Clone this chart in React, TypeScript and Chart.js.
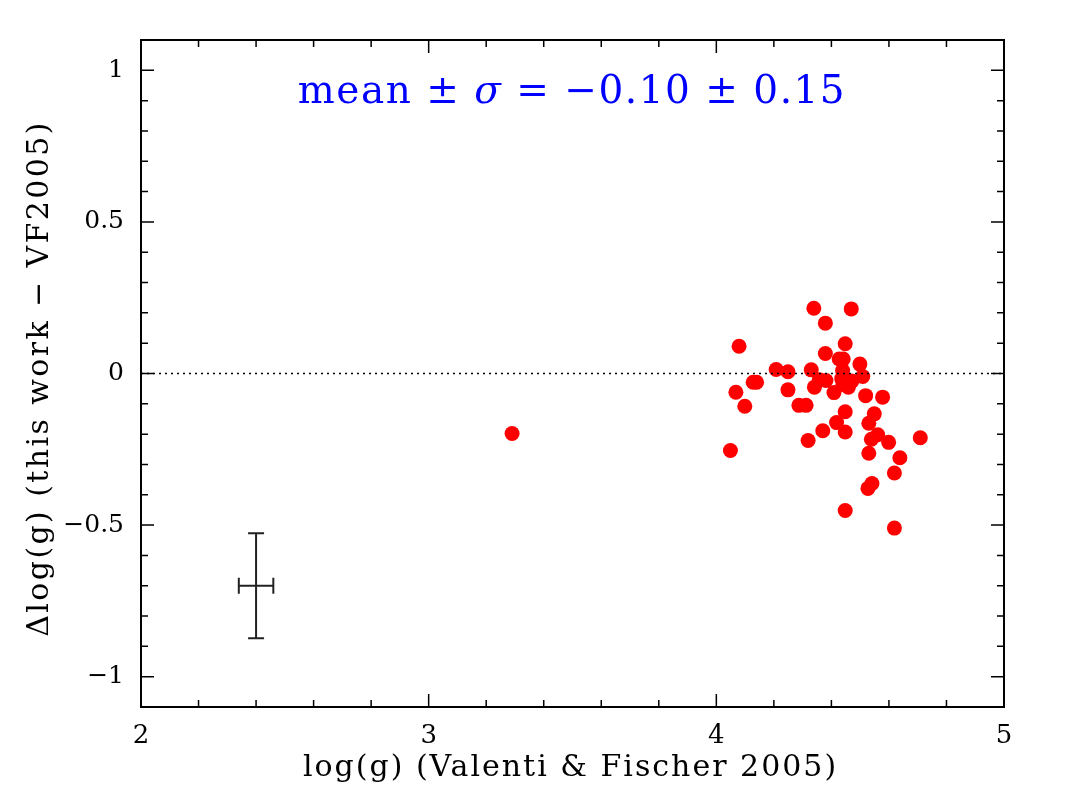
import React, { useEffect, useRef } from "react";
import { Chart, registerables } from "chart.js";

Chart.register(...registerables);

// log(g) from Valenti & Fischer 2005
const loggVF: number[] = [
  4.339, 4.469, 4.379, 4.079, 4.448, 4.379, 4.427, 4.441, 4.499, 4.208,
  4.249, 4.330, 4.439, 4.509, 4.128, 4.140, 4.358, 4.381, 4.436, 4.453,
  4.471, 4.341, 4.459, 4.068, 4.249, 4.409, 4.519, 4.578, 4.099, 4.287,
  4.312, 4.448, 4.549, 4.418, 4.530, 4.370, 4.448, 4.561, 4.539, 4.709,
  4.319, 4.599, 4.049, 4.530, 4.638, 4.619, 4.541, 4.527, 4.448, 4.619,
  4.440, 3.290,
];
// Δlog(g) = this work − VF2005
const deltaLogg: number[] = [
  0.215, 0.213, 0.166, 0.090, 0.098, 0.066, 0.048, 0.048, 0.031, 0.013,
  0.006, 0.012, 0.010, -0.010, -0.029, -0.029, -0.021, -0.023, -0.017, -0.023,
  -0.025, -0.045, -0.045, -0.062, -0.054, -0.063, -0.073, -0.078, -0.108, -0.105,
  -0.105, -0.126, -0.133, -0.162, -0.164, -0.189, -0.193, -0.202, -0.217, -0.212,
  -0.221, -0.227, -0.254, -0.263, -0.278, -0.328, -0.363, -0.379, -0.452, -0.510,
  -0.036, -0.198,
];

const xTicks: number[] = [2, 3, 4, 5];
const yTicks: number[] = [-1, -0.5, 0, 0.5, 1];
const yTickLabels: string[] = ["\u22121", "\u22120.5", "0", "0.5", "1"];
const xMinorStep = 0.2;
const yMinorStep = 0.1;

// representative error bar
const errBarX: number[] = [2.4];
const errBarY: number[] = [-0.7];
const errBarDX: number[] = [0.06];
const errBarDY: number[] = [0.173];

const zeroLineX: number[] = [2, 5];
const zeroLineY: number[] = [0, 0];

// annotation pieces: [text, italic]
const meanPieces: [string, boolean][] = [
  ["mean \u00B1 ", false],
  ["\u03C3", true],
  [" = \u22120.10 \u00B1 0.15", false],
];
const xTitle = "log(g) (Valenti & Fischer 2005)";
const yTitle = "\u0394log(g) (this work \u2212 VF2005)";

const SERIF = "'DejaVu Serif', serif";

const framePlugin = {
  id: "frame",
  afterDatasetsDraw(chart: any) {
    const { ctx, chartArea } = chart;
    const xs = chart.scales.x;
    const ys = chart.scales.y;
    const { left, right, top, bottom } = chartArea;
    ctx.save();
    ctx.strokeStyle = "#000";
    ctx.lineWidth = 2;
    ctx.strokeRect(left, top, right - left, bottom - top);

    const major = 13;
    const minor = 7;
    ctx.lineWidth = 1.5;
    // x ticks
    const xmin = xs.min, xmax = xs.max;
    const nX = Math.round((xmax - xmin) / xMinorStep);
    for (let i = 0; i <= nX; i++) {
      const v = xmin + i * xMinorStep;
      const isMajor = xTicks.some((t) => Math.abs(t - v) < 1e-6);
      const len = isMajor ? major : minor;
      const px = xs.getPixelForValue(v);
      ctx.beginPath();
      ctx.moveTo(px, bottom);
      ctx.lineTo(px, bottom - len);
      ctx.moveTo(px, top);
      ctx.lineTo(px, top + len);
      ctx.stroke();
    }
    // y ticks
    const start = Math.ceil(ys.min / yMinorStep - 1e-6);
    const end = Math.floor(ys.max / yMinorStep + 1e-6);
    for (let i = start; i <= end; i++) {
      const v = i * yMinorStep;
      const isMajor = yTicks.some((t) => Math.abs(t - v) < 1e-6);
      const len = isMajor ? major : minor;
      const py = ys.getPixelForValue(v);
      ctx.beginPath();
      ctx.moveTo(left, py);
      ctx.lineTo(left + len, py);
      ctx.moveTo(right, py);
      ctx.lineTo(right - len, py);
      ctx.stroke();
    }

    // error bar
    ctx.strokeStyle = "#222";
    ctx.lineWidth = 2;
    for (let i = 0; i < errBarX.length; i++) {
      const cx = xs.getPixelForValue(errBarX[i]);
      const cy = ys.getPixelForValue(errBarY[i]);
      const x0 = xs.getPixelForValue(errBarX[i] - errBarDX[i]);
      const x1 = xs.getPixelForValue(errBarX[i] + errBarDX[i]);
      const y0 = ys.getPixelForValue(errBarY[i] - errBarDY[i]);
      const y1 = ys.getPixelForValue(errBarY[i] + errBarDY[i]);
      const cap = 8;
      ctx.beginPath();
      ctx.moveTo(x0, cy); ctx.lineTo(x1, cy);
      ctx.moveTo(x0, cy - cap); ctx.lineTo(x0, cy + cap);
      ctx.moveTo(x1, cy - cap); ctx.lineTo(x1, cy + cap);
      ctx.moveTo(cx, y0); ctx.lineTo(cx, y1);
      ctx.moveTo(cx - cap, y0); ctx.lineTo(cx + cap, y0);
      ctx.moveTo(cx - cap, y1); ctx.lineTo(cx + cap, y1);
      ctx.stroke();
    }

    // axis titles
    ctx.fillStyle = "#000";
    ctx.textAlign = "center";
    ctx.textBaseline = "middle";
    ctx.font = `30px ${SERIF}`;
    (ctx as any).letterSpacing = "2px";
    ctx.fillText(xTitle, (left + right) / 2 - 2, 768);
    ctx.save();
    ctx.translate(40, (top + bottom) / 2 + 5);
    ctx.rotate(-Math.PI / 2);
    (ctx as any).letterSpacing = "2.4px";
    ctx.fillText(yTitle, 0, 0);
    ctx.restore();

    // mean annotation (σ in italics)
    ctx.fillStyle = "#0000ff";
    (ctx as any).letterSpacing = "1.5px";
    ctx.textAlign = "left";
    ctx.textBaseline = "alphabetic";
    const fontFor = (it: boolean) => `${it ? "italic " : ""}39px ${SERIF}`;
    let total = 0;
    for (const [t, it] of meanPieces) {
      ctx.font = fontFor(it);
      total += ctx.measureText(t).width;
    }
    let xpos = 572 - total / 2;
    for (const [t, it] of meanPieces) {
      ctx.font = fontFor(it);
      ctx.fillText(t, xpos, 103);
      xpos += ctx.measureText(t).width;
    }
    (ctx as any).letterSpacing = "0px";
    ctx.restore();
  },
};

export default function App() {
  const ref = useRef<HTMLCanvasElement | null>(null);

  useEffect(() => {
    document.body.style.margin = "0";
    const canvas = ref.current;
    if (!canvas) return;
    const chart = new Chart(canvas, {
      type: "scatter",
      data: {
        datasets: [
          {
            type: "line",
            label: "zero",
            data: zeroLineX.map((x, i) => ({ x, y: zeroLineY[i] })),
            borderColor: "#000",
            borderWidth: 1.6,
            borderDash: [2, 4],
            pointRadius: 0,
            fill: false,
          } as any,
          {
            label: "stars",
            data: loggVF.map((x, i) => ({ x, y: deltaLogg[i] })),
            backgroundColor: "#ff0000",
            borderColor: "#ff0000",
            borderWidth: 0,
            pointRadius: 7.5,
          },
        ],
      },
      options: {
        responsive: false,
        animation: false,
        events: [],
        layout: { padding: { top: 40, right: 63, left: 0, bottom: 0 } },
        plugins: {
          legend: { display: false },
          tooltip: { enabled: false },
        },
        scales: {
          x: {
            type: "linear",
            min: 2,
            max: 5,
            grid: { display: false, drawTicks: false },
            border: { display: false },
            afterBuildTicks: (s: any) => {
              s.ticks = xTicks.map((v) => ({ value: v }));
            },
            afterFit: (s: any) => {
              s.height = 90;
            },
            ticks: {
              padding: 14,
              color: "#000",
              font: { family: SERIF, size: 26 },
              callback: (v: any) => String(v),
            },
            title: { display: false },
          },
          y: {
            type: "linear",
            min: -1.1,
            max: 1.1,
            grid: { display: false, drawTicks: false },
            border: { display: false },
            afterBuildTicks: (s: any) => {
              s.ticks = yTicks.map((v) => ({ value: v }));
            },
            afterFit: (s: any) => {
              s.width = 141;
            },
            ticks: {
              padding: 17,
              color: "#000",
              font: { family: SERIF, size: 25 },
              callback: (v: any) => {
                const idx = yTicks.findIndex((t) => Math.abs(t - Number(v)) < 1e-6);
                return idx >= 0 ? yTickLabels[idx] : "";
              },
            },
            title: { display: false },
          },
        },
      },
      plugins: [framePlugin],
    });
    return () => chart.destroy();
  }, []);

  return (
    <div style={{ width: 1067, height: 797, background: "#fff" }}>
      <canvas ref={ref} width={1067} height={797} style={{ display: "block" }} />
    </div>
  );
}
